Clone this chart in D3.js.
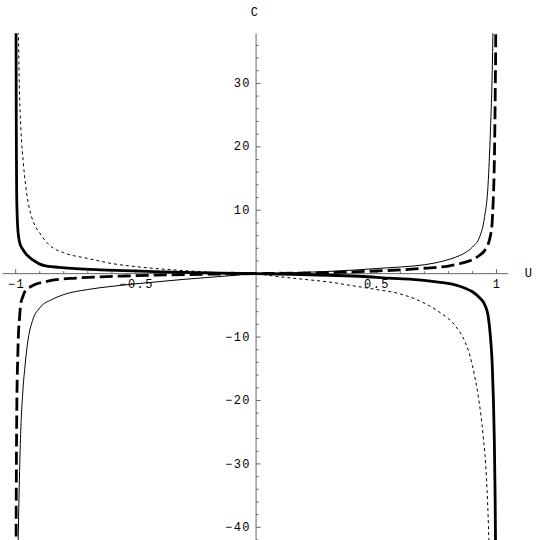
<!DOCTYPE html>
<html>
<head>
<meta charset="utf-8">
<script src="https://cdn.jsdelivr.net/npm/d3@7"></script>
<style>
  body { margin: 0; background: #fff; }
  svg text { font-family: "Liberation Mono", "DejaVu Sans Mono", monospace; font-size: 12px; letter-spacing: 1.5px; fill: #000; }
</style>
</head>
<body>
<div id="chart"></div>
<script>
// values (U on x, C on y)
const uThick = [-0.9988, -0.998, -0.997, -0.996, -0.994, -0.991, -0.987, -0.981, -0.97, -0.955, -0.94, -0.92, -0.9, -0.87, -0.82, -0.75, -0.65, -0.55, -0.45, -0.3, -0.15, 0, 0.15, 0.3, 0.45, 0.55, 0.65, 0.75, 0.82, 0.87, 0.9, 0.93, 0.95, 0.965, 0.975, 0.982, 0.987, 0.991, 0.994, 0.996, 0.9975];
const cThick = [45, 30, 19, 13, 9.5, 7, 5.6, 4.6, 3.8, 3.0, 2.5, 1.95, 1.5, 1.2, 1.0, 0.78, 0.6, 0.48, 0.36, 0.2, 0.07, 0, -0.1, -0.25, -0.45, -0.72, -0.9, -1.3, -1.7, -2.3, -2.85, -3.8, -4.8, -6.6, -10, -14, -19.5, -26, -34, -42, -55];

const uDot = [-0.99, -0.985, -0.978, -0.968, -0.952, -0.938, -0.92, -0.9, -0.86, -0.8, -0.7, -0.6, -0.5, -0.4, -0.3, -0.2, -0.1, 0, 0.05, 0.1, 0.2, 0.3, 0.4, 0.5, 0.6, 0.68, 0.76, 0.83, 0.87, 0.89, 0.91, 0.925, 0.945, 0.958, 0.968, 0.976];
const cDot = [42, 30, 22.6, 17.4, 12.1, 9.5, 7.6, 6.4, 4.5, 3.3, 2.4, 1.6, 1.1, 0.75, 0.48, 0.26, 0.1, 0, -0.25, -0.5, -0.9, -1.3, -1.9, -2.5, -3.2, -4.3, -6.0, -8.3, -10.8, -13, -16.3, -19.5, -25.7, -32, -41.5, -55];

const uThin = [-0.99, -0.986, -0.98, -0.971, -0.961, -0.948, -0.93, -0.9, -0.85, -0.8, -0.7, -0.6, -0.5, -0.4, -0.3, -0.2, -0.1, 0, 0.1, 0.2, 0.3, 0.4, 0.5, 0.6, 0.7, 0.78, 0.83, 0.87, 0.9, 0.93, 0.95, 0.965, 0.975, 0.983, 0.987];
const cThin = [-43, -35, -26, -19, -14.5, -10.3, -7.4, -5.4, -4.1, -3.3, -2.5, -2.0, -1.6, -1.25, -0.9, -0.6, -0.3, 0, 0.1, 0.2, 0.35, 0.55, 0.8, 1.05, 1.4, 2.0, 2.6, 3.3, 4.2, 5.8, 8.8, 14, 22.6, 33, 42];

const uDash = [-0.999, -0.997, -0.995, -0.992, -0.989, -0.984, -0.979, -0.97, -0.96, -0.94, -0.92, -0.88, -0.84, -0.75, -0.65, -0.55, -0.45, -0.3, -0.15, 0, 0.15, 0.3, 0.4, 0.5, 0.6, 0.7, 0.8, 0.85, 0.9, 0.93, 0.95, 0.965, 0.975, 0.982, 0.986, 0.99, 0.993, 0.995, 0.997, 0.998];
const cDash = [-50, -30, -20, -14, -10, -7, -4.8, -3.6, -2.7, -2.1, -1.7, -1.3, -1.0, -0.7, -0.5, -0.37, -0.27, -0.15, -0.06, 0, 0.08, 0.17, 0.28, 0.42, 0.6, 0.85, 1.2, 1.6, 2.2, 2.9, 3.6, 4.6, 6.0, 8, 11, 15.5, 22, 29, 38, 50];

const xMajor = [-1, -0.5, 0.5, 1];
const xLabels = ["\u22121", "\u22120.5", "0.5", "1"];
const yMajor = [-40, -30, -20, -10, 10, 20, 30];
const yLabels = ["\u221240", "\u221230", "\u221220", "\u221210", "10", "20", "30"];

const width = 540, height = 540;

const x = d3.scaleLinear().domain([-1.054, 1.048]).range([2.7, 508]);
const y = d3.scaleLinear().domain([-42, 37.9]).range([540, 33.3]);

const svg = d3.select("#chart").append("svg")
  .attr("width", width)
  .attr("height", height);

svg.append("defs").append("clipPath").attr("id", "clip")
  .append("rect")
  .attr("x", 0).attr("y", y(37.9))
  .attr("width", width).attr("height", height - y(37.9));

const axisColor = "#666";

// axes
svg.append("line")
  .attr("x1", x(-1.054)).attr("x2", x(1.048))
  .attr("y1", y(0)).attr("y2", y(0))
  .attr("stroke", axisColor);
svg.append("line")
  .attr("x1", x(0)).attr("x2", x(0))
  .attr("y1", y(37.9)).attr("y2", y(-42))
  .attr("stroke", axisColor);

// x ticks (point up)
const xMinor = d3.range(-10, 11).map(i => i / 10).filter(v => Math.abs(v * 2 - Math.round(v * 2)) > 1e-6);
svg.append("g").selectAll("line").data(xMinor).join("line")
  .attr("x1", d => x(d)).attr("x2", d => x(d))
  .attr("y1", y(0)).attr("y2", y(0) - 2.5)
  .attr("stroke", axisColor);
svg.append("g").selectAll("line").data(xMajor).join("line")
  .attr("x1", d => x(d)).attr("x2", d => x(d))
  .attr("y1", y(0)).attr("y2", y(0) - 4.5)
  .attr("stroke", axisColor);

// y ticks (point right)
const yMinor = d3.range(-42, 38, 2).filter(v => v % 10 !== 0);
svg.append("g").selectAll("line").data(yMinor).join("line")
  .attr("x1", x(0)).attr("x2", x(0) + 2.5)
  .attr("y1", d => y(d)).attr("y2", d => y(d))
  .attr("stroke", axisColor);
svg.append("g").selectAll("line").data(yMajor).join("line")
  .attr("x1", x(0)).attr("x2", x(0) + 4.5)
  .attr("y1", d => y(d)).attr("y2", d => y(d))
  .attr("stroke", axisColor);

// tick labels
svg.append("g").selectAll("text").data(xMajor).join("text")
  .attr("x", d => x(d) + 0.75)
  .attr("y", y(0) + 11.5)
  .attr("text-anchor", "middle")
  .attr("dominant-baseline", "middle")
  .text((d, i) => xLabels[i]);

svg.append("g").selectAll("text").data(yMajor).join("text")
  .attr("x", x(0) - 5)
  .attr("y", d => y(d) + 0.5)
  .attr("text-anchor", "end")
  .attr("dominant-baseline", "middle")
  .text((d, i) => yLabels[i]);

svg.append("text").attr("x", 255).attr("y", 13)
  .attr("text-anchor", "middle").attr("dominant-baseline", "middle").text("C");
svg.append("text").attr("x", 529).attr("y", 274)
  .attr("text-anchor", "middle").attr("dominant-baseline", "middle").text("U");

// curves
const line = d3.line()
  .x(d => x(d[0]))
  .y(d => y(d[1]))
  .curve(d3.curveMonotoneX);

const series = [
  { u: uThin, c: cThin, w: 1, dash: null },
  { u: uDot, c: cDot, w: 1, dash: "3,3" },
  { u: uDash, c: cDash, w: 2.8, dash: "13,5" },
  { u: uThick, c: cThick, w: 2.8, dash: null }
];

const curves = svg.append("g").attr("clip-path", "url(#clip)");
curves.selectAll("path").data(series).join("path")
  .attr("d", s => line(s.u.map((u, i) => [u, s.c[i]])))
  .attr("fill", "none")
  .attr("stroke", "#000")
  .attr("stroke-width", s => s.w)
  .attr("stroke-dasharray", s => s.dash);
</script>
</body>
</html>
